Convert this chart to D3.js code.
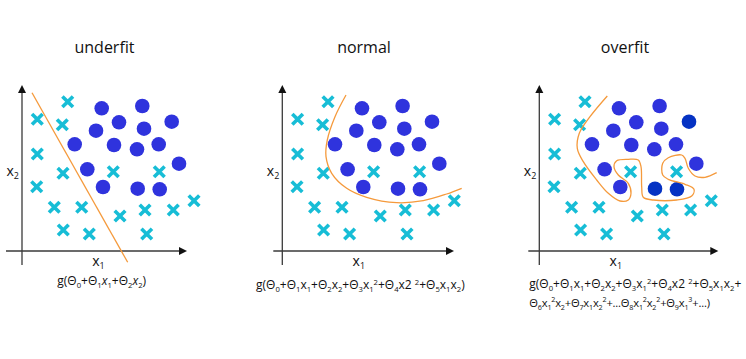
<!DOCTYPE html>
<html><head><meta charset="utf-8">
<script src="https://cdn.jsdelivr.net/npm/d3@7"></script>
<style>body{margin:0;background:#fff}svg{display:block}</style>
</head><body><svg id="c" width="746" height="359"></svg>
<script>
// ---- data ----
const titles = ["underfit", "normal", "overfit"];
const crossX = [4.57, 1.53, 4.03, 1.53, 4.10, 1.47, 3.23, 5.97, 4.13, 6.73, 9.13, 13.73, 9.80, 12.30, 15.13, 17.20, 12.47];
const crossY = [14.93, 13.17, 12.63, 9.70, 7.77, 6.43, 4.37, 4.37, 2.10, 1.70, 7.93, 7.93, 3.50, 4.10, 4.10, 5.03, 1.70];
const circleX = [7.97, 12.03, 9.70, 12.20, 14.97, 7.40, 5.27, 9.20, 11.50, 13.67, 15.70, 6.53, 8.10, 11.57, 13.77];
const circleY = [14.27, 14.50, 12.87, 12.23, 12.93, 12.03, 10.67, 10.60, 10.17, 10.67, 8.73, 8.17, 6.40, 6.23, 6.17];
const overfitDark = [0, 0, 0, 0, 1, 0, 0, 0, 0, 0, 0, 0, 0, 1, 1];
const underfitX = [1.0, 10.57];
const underfitY = [15.83, -1.13];
const normalX = [6.37, 5.27, 4.50, 4.37, 4.94, 6.44, 8.44, 11.44, 14.10, 16.44, 17.94];
const normalY = [15.6, 13.43, 11.10, 9.43, 7.77, 6.27, 5.37, 4.83, 5.03, 5.70, 6.27];
const overfitX = [6.80, 5.07, 4.00, 3.80, 4.40, 5.74, 6.90, 8.07, 8.90, 9.17, 8.90, 7.90, 7.47, 7.74, 8.90, 9.90, 10.17, 10.24, 10.40, 11.40, 13.74, 15.24, 15.47, 14.57, 12.90, 12.34, 12.34, 12.90, 14.24, 14.57, 14.90, 15.57, 16.57, 17.74];
const overfitY = [15.50, 13.43, 11.77, 10.27, 8.93, 7.10, 5.77, 5.00, 5.10, 5.77, 6.77, 7.60, 8.43, 9.03, 9.17, 9.10, 8.43, 6.43, 5.37, 5.10, 5.10, 5.50, 6.17, 6.67, 7.17, 7.60, 8.77, 9.33, 9.60, 9.27, 8.27, 7.50, 7.37, 7.83];
const formula1 = ["g(Θ_0+Θ_1*x*_1+Θ_2*x*_2)"];
const formula2 = ["g(Θ_0+Θ_1x_1+Θ_2x_2+Θ_3x_1^2+Θ_4x2 ^2+Θ_5x_1x_2)"];
const formula3 = ["g(Θ_0+Θ_1x_1+Θ_2x_2+Θ_3x_1^2+Θ_4x2 ^2+Θ_5x_1x_2+",
                  "Θ_6x_1^2x_2+Θ_7x_1x_2^2+...Θ_8x_1^2x_2^2+Θ_9x_1^3+...)"];

// ---- layout ----
const svg = d3.select("#c");
const FONT = "'Open Sans', 'Noto Sans', sans-serif";
const CROSS = "#17bdd6", CIRC = "#2f33dd", DARK = "#0532c3", ORANGE = "#f59a3c", AXIS = "#3a3a3a";
const panels = [
  {ox: 22, oy: 251, xa: [-1.6, 16.5], ya: [-1.4, 16.6], tx: 104.5, fx: 57.3, fy: [285], fs: [12], ls: [0], f: formula1, bx: underfitX, by: underfitY, curve: d3.curveLinear},
  {ox: 282.3, oy: 251, xa: [-0.9, 17.17], ya: [-1.4, 16.6], tx: 364, fx: 256, fy: [289], fs: [12], ls: [0], f: formula2, bx: normalX, by: normalY, curve: d3.curveCatmullRom},
  {ox: 539.3, oy: 251, xa: [-1.1, 17.9], ya: [-1.4, 16.6], tx: 625, fx: 529.3, fy: [288, 306.7], fs: [12, 11.2], ls: [0, -0.2], f: formula3, bx: overfitX, by: overfitY, curve: d3.curveCatmullRom}
];

// "_c" subscript, "^c" superscript, "*" toggles italic
function rich(sel, str, fs) {
  let i = 0, italic = false, shift = 0;
  const segs = [];
  while (i < str.length) {
    const c = str[i];
    if (c === "_" || c === "^") { segs.push({t: str[i + 1], k: c, it: italic}); i += 2; }
    else if (c === "*") { italic = !italic; i++; }
    else {
      const last = segs[segs.length - 1];
      if (last && last.k === "n" && last.it === italic) last.t += c;
      else segs.push({t: c, k: "n", it: italic});
      i++;
    }
  }
  segs.forEach(s => {
    const target = s.k === "_" ? 3 : s.k === "^" ? -4.5 : 0;
    sel.append("tspan")
      .attr("dy", target - shift)
      .attr("font-size", s.k === "n" ? fs : fs * 0.64)
      .attr("font-style", s.it ? "italic" : "normal")
      .text(s.t);
    shift = target;
  });
}

panels.forEach((p, pi) => {
  const x = d3.scaleLinear().domain([0, 1]).range([p.ox, p.ox + 10]);
  const y = d3.scaleLinear().domain([0, 1]).range([p.oy, p.oy - 10]);
  const g = svg.append("g");

  // title
  g.append("text").attr("x", p.tx).attr("y", 53).attr("text-anchor", "middle")
    .attr("font-family", FONT).attr("font-size", 16).attr("fill", "#111").text(titles[pi]);

  // axes
  g.append("line").attr("x1", x(p.xa[0])).attr("x2", x(p.xa[1]) - 4).attr("y1", y(0)).attr("y2", y(0))
    .attr("stroke", AXIS).attr("stroke-width", 1.3);
  g.append("line").attr("x1", x(0)).attr("x2", x(0)).attr("y1", y(p.ya[0])).attr("y2", y(p.ya[1]) + 4)
    .attr("stroke", AXIS).attr("stroke-width", 1.3);
  const ex = x(p.xa[1]), ey = y(p.ya[1]);
  g.append("path").attr("d", `M${ex},${y(0)}L${ex - 8},${y(0) - 4}L${ex - 8},${y(0) + 4}Z`).attr("fill", "#111");
  g.append("path").attr("d", `M${x(0)},${ey}L${x(0) - 4},${ey + 8}L${x(0) + 4},${ey + 8}Z`).attr("fill", "#111");

  // axis labels
  const lx = g.append("text").attr("x", x(7.65)).attr("y", p.oy + 15).attr("text-anchor", "middle")
    .attr("font-family", FONT).attr("font-size", 14).attr("fill", "#111");
  rich(lx, "x_1", 14);
  const ly = g.append("text").attr("x", x(0) - 15.5).attr("y", y(7.5)).attr("text-anchor", "start")
    .attr("font-family", FONT).attr("font-size", 14).attr("fill", "#111");
  rich(ly, "x_2", 14);

  // crosses
  g.selectAll(".cr").data(crossX.map((v, i) => [v, crossY[i]])).join("path")
    .attr("transform", d => `translate(${x(d[0])},${y(d[1])})`)
    .attr("d", "M-5.3,-5.3L5.3,5.3M-5.3,5.3L5.3,-5.3")
    .attr("stroke", CROSS).attr("stroke-width", 3.6).attr("fill", "none");

  // circles
  g.selectAll(".ci").data(circleX.map((v, i) => [v, circleY[i], overfitDark[i]])).join("circle")
    .attr("cx", d => x(d[0])).attr("cy", d => y(d[1])).attr("r", 7.3)
    .attr("fill", d => (pi === 2 && d[2]) ? DARK : CIRC);

  // decision boundary
  const line = d3.line().x(d => x(d[0])).y(d => y(d[1])).curve(p.curve);
  g.append("path").attr("d", line(p.bx.map((v, i) => [v, p.by[i]])))
    .attr("fill", "none").attr("stroke", ORANGE).attr("stroke-width", 1.3);

  // formula
  p.f.forEach((s, li) => {
    const t = g.append("text").attr("x", p.fx).attr("y", p.fy[li]).attr("text-anchor", "start")
      .attr("font-family", FONT).attr("font-size", p.fs[li]).attr("letter-spacing", p.ls[li]).attr("fill", "#111");
    rich(t, s, p.fs[li]);
  });
});
</script></body></html>
